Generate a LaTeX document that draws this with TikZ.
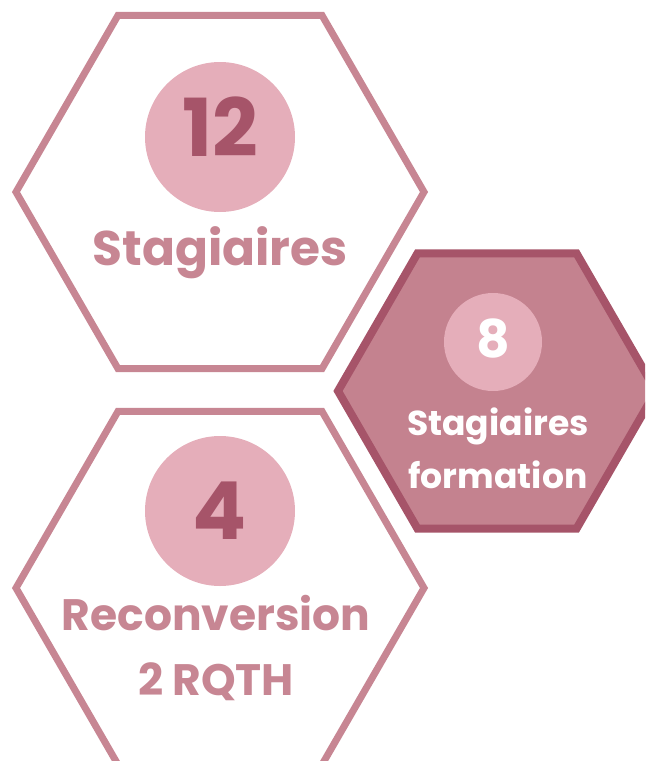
\documentclass[tikz,border=0pt]{standalone}
\usepackage{fontspec}
\setmainfont{Poppins}
\usetikzlibrary{shapes.geometric}
\definecolor{hexline}{HTML}{C78693}
\definecolor{bubble}{HTML}{E5AEBA}
\definecolor{deep}{HTML}{A65469}
\definecolor{hexfill}{HTML}{C4828F}
\tikzset{
    hexa/.style={regular polygon, regular polygon sides=6, inner sep=0pt, line width=3.5pt},
    bubblenode/.style={circle, fill=bubble, inner sep=0pt},
    label/.style={font=\bfseries, inner sep=0pt, align=center}
}
\begin{document}
\begin{tikzpicture}[x=0.5pt, y=-0.5pt]
    \useasboundingbox (0, 0) rectangle (645, 761);
    \clip (0, 0) rectangle (645, 761);
    % hexagons
    \node[hexa, draw=hexline, minimum size=204pt] (topHex) at (220, 192) {};
    \node[hexa, draw=hexline, minimum size=204pt] (lowHex) at (220, 588) {};
    \node[hexa, draw=deep, fill=hexfill, line width=4pt, minimum size=159pt] (sideHex) at (497, 391) {};
    % number bubbles
    \node[bubblenode, minimum size=75pt] (topNum) at (220, 137) {};
    \node[bubblenode, minimum size=75pt] (lowNum) at (220, 511) {};
    \node[bubblenode, minimum size=49pt] (sideNum) at (493, 342) {};
    \node[label, text=deep, font=\bfseries\fontsize{40}{40}\selectfont] at ([yshift=5pt]topNum) {12};
    \node[label, text=deep, font=\bfseries\fontsize{40}{40}\selectfont] at (lowNum) {4};
    \node[label, text=white, font=\bfseries\fontsize{26}{26}\selectfont] at ([yshift=2pt]sideNum) {8};
    % captions (base = last line)
    \node[label, text=hexline, anchor=base, font=\bfseries\fontsize{24.3}{30}\selectfont] (topText) at (220, 265) {Stagiaires};
    \node[label, text=hexline, anchor=base, font=\bfseries\fontsize{22}{32.5}\selectfont] (lowText) at (216, 695) {Reconversion\\2 RQTH};
    \node[label, text=white, anchor=base, font=\bfseries\fontsize{17.3}{26.5}\selectfont] (sideText) at (498, 488) {Stagiaires\\formation};
\end{tikzpicture}
\end{document}
